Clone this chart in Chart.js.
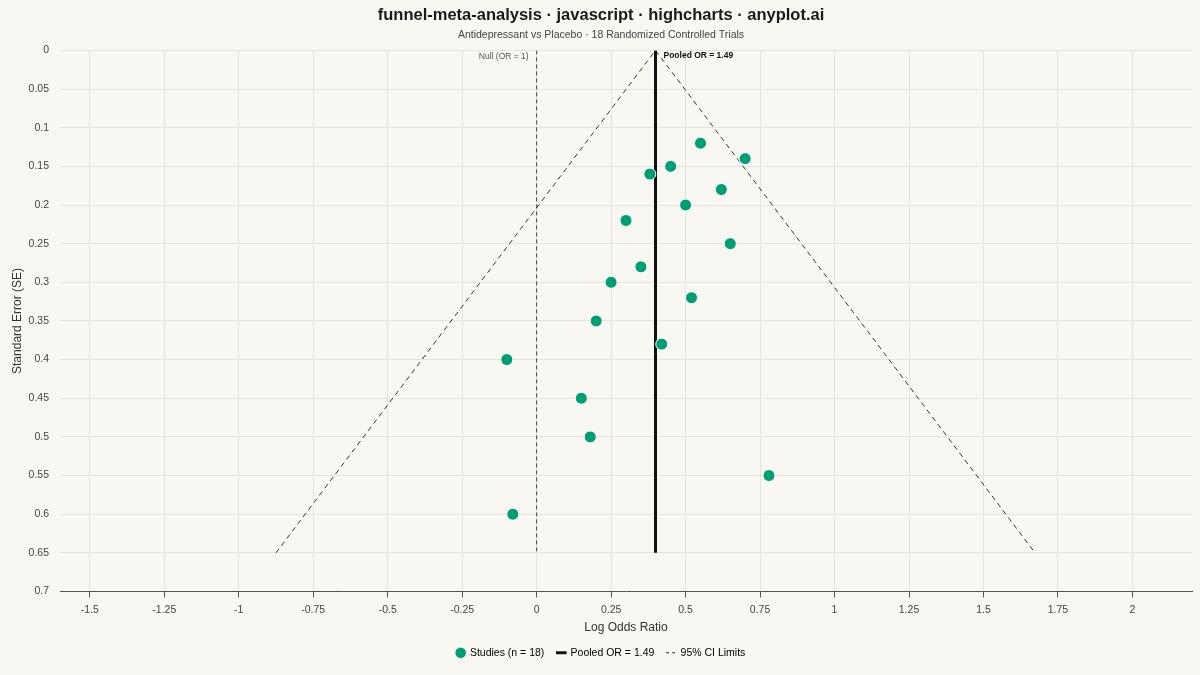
<!DOCTYPE html>
<html>
<head>
<meta charset="utf-8">
<script src="https://cdn.jsdelivr.net/npm/chart.js@4.4.1/dist/chart.umd.min.js"></script>
<style>
  html, body { margin: 0; padding: 0; background: #f9f7f1; }
  #wrap { position: relative; width: 1200px; height: 675px; }
</style>
</head>
<body>
<div id="wrap"><canvas id="funnel"></canvas></div>
<script>
// study estimates
const studyLogOR = [0.55, 0.70, 0.45, 0.38, 0.62, 0.50, 0.30, 0.65, 0.35, 0.25, 0.52, 0.20, 0.42, -0.10, 0.15, 0.18, 0.78, -0.08];
const studySE    = [0.12, 0.14, 0.15, 0.16, 0.18, 0.20, 0.22, 0.25, 0.28, 0.30, 0.32, 0.35, 0.38, 0.40, 0.45, 0.50, 0.55, 0.60];

const pooledLogOR = 0.399; // ln(1.49)
const lineSE = [0, 0.65];
const nullLogOR = 0;

// 95% CI funnel edges (left bottom, apex, right bottom)
const ciLogOR = [-0.875, 0.399, 1.673];
const ciSE    = [0.65, 0, 0.65];

const xTicks = [-1.5, -1.25, -1, -0.75, -0.5, -0.25, 0, 0.25, 0.5, 0.75, 1, 1.25, 1.5, 1.75, 2];

const FONT = "'Liberation Sans', Arial, sans-serif";
const GREEN = '#009E73';

const pairs = (xs, ys) => xs.map((x, i) => ({ x: x, y: ys[i] }));

// text labels next to the reference lines
const refLabels = {
  id: 'refLabels',
  afterDatasetsDraw(chart) {
    const { ctx, scales: { x, y } } = chart;
    ctx.save();
    ctx.textBaseline = 'middle';
    ctx.font = '8.5px ' + FONT;
    ctx.fillStyle = '#555';
    ctx.textAlign = 'right';
    ctx.fillText('Null (OR = 1)', x.getPixelForValue(nullLogOR) - 8, y.getPixelForValue(0) + 6);
    ctx.font = 'bold 8.5px ' + FONT;
    ctx.fillStyle = '#111';
    ctx.textAlign = 'left';
    ctx.fillText('Pooled OR = 1.49', x.getPixelForValue(pooledLogOR) + 8, y.getPixelForValue(0) + 5);
    ctx.restore();
  }
};

new Chart(document.getElementById('funnel'), {
  type: 'scatter',
  data: {
    datasets: [
      {
        label: 'Studies (n = 18)',
        data: pairs(studyLogOR, studySE),
        backgroundColor: GREEN,
        borderColor: '#ffffff',
        borderWidth: 1,
        pointRadius: 6,
        pointHoverRadius: 6,
        order: 0
      },
      {
        label: 'Pooled OR = 1.49',
        data: pairs([pooledLogOR, pooledLogOR], lineSE),
        showLine: true,
        borderColor: '#111',
        borderWidth: 3,
        pointRadius: 0,
        order: 2
      },
      {
        label: '95% CI Limits',
        data: pairs(ciLogOR, ciSE),
        showLine: true,
        borderColor: '#333',
        borderWidth: 1,
        borderDash: [5, 4],
        pointRadius: 0,
        order: 3
      },
      {
        label: 'Null',
        data: pairs([nullLogOR, nullLogOR], lineSE),
        showLine: true,
        borderColor: '#444',
        borderWidth: 1,
        borderDash: [4, 3],
        pointRadius: 0,
        order: 4
      }
    ]
  },
  options: {
    responsive: true,
    maintainAspectRatio: false,
    animation: false,
    layout: { padding: { left: 10, right: 8, top: 6, bottom: 7 } },
    plugins: {
      title: {
        display: true,
        text: 'funnel-meta-analysis · javascript · highcharts · anyplot.ai',
        color: '#1a1a1a',
        font: { family: FONT, size: 16.5, weight: 'bold' },
        padding: { top: 0, bottom: 3 }
      },
      subtitle: {
        display: true,
        text: 'Antidepressant vs Placebo · 18 Randomized Controlled Trials',
        color: '#444',
        font: { family: FONT, size: 10.5 },
        padding: { bottom: 9 }
      },
      legend: {
        position: 'bottom',
        labels: {
          color: '#333',
          font: { family: FONT, size: 10.5 },
          usePointStyle: true,
          boxWidth: 8,
          boxHeight: 7.5,
          padding: 13,
          generateLabels(chart) {
            return [
              { text: 'Studies (n = 18)', datasetIndex: 0, pointStyle: 'circle', fillStyle: GREEN, strokeStyle: GREEN, lineWidth: 0 },
              { text: 'Pooled OR = 1.49', datasetIndex: 1, pointStyle: 'line', fillStyle: '#111', strokeStyle: '#111', lineWidth: 3 },
              { text: '95% CI Limits', datasetIndex: 2, pointStyle: 'line', fillStyle: '#333', strokeStyle: '#333', lineWidth: 1, lineDash: [3, 3] }
            ];
          }
        }
      },
      tooltip: { enabled: false }
    },
    scales: {
      x: {
        type: 'linear',
        min: -1.6,
        max: 2.2,
        afterBuildTicks(scale) { scale.ticks = xTicks.map(v => ({ value: v })); },
        ticks: {
          color: '#444',
          font: { family: FONT, size: 10.5 },
          padding: 6,
          callback: v => String(v)
        },
        grid: { color: '#e6e3dc', tickColor: '#555', tickLength: 6 },
        border: { display: true, color: '#555', width: 1 },
        title: {
          display: true,
          text: 'Log Odds Ratio',
          color: '#333',
          font: { family: FONT, size: 12 },
          padding: { top: -2, bottom: 0 }
        }
      },
      y: {
        type: 'linear',
        reverse: true,
        min: 0,
        max: 0.7,
        ticks: {
          stepSize: 0.05,
          color: '#444',
          font: { family: FONT, size: 10.5 },
          padding: 11,
          callback: v => String(Number(v.toFixed(2)))
        },
        grid: { color: '#e6e3dc', drawTicks: false },
        border: { display: false },
        title: {
          display: true,
          text: 'Standard Error (SE)',
          color: '#333',
          font: { family: FONT, size: 12 },
          padding: { top: 0, bottom: 2 }
        },
        afterFit(scale) { scale.width = 50; }
      }
    }
  },
  plugins: [refLabels]
});
</script>
</body>
</html>
